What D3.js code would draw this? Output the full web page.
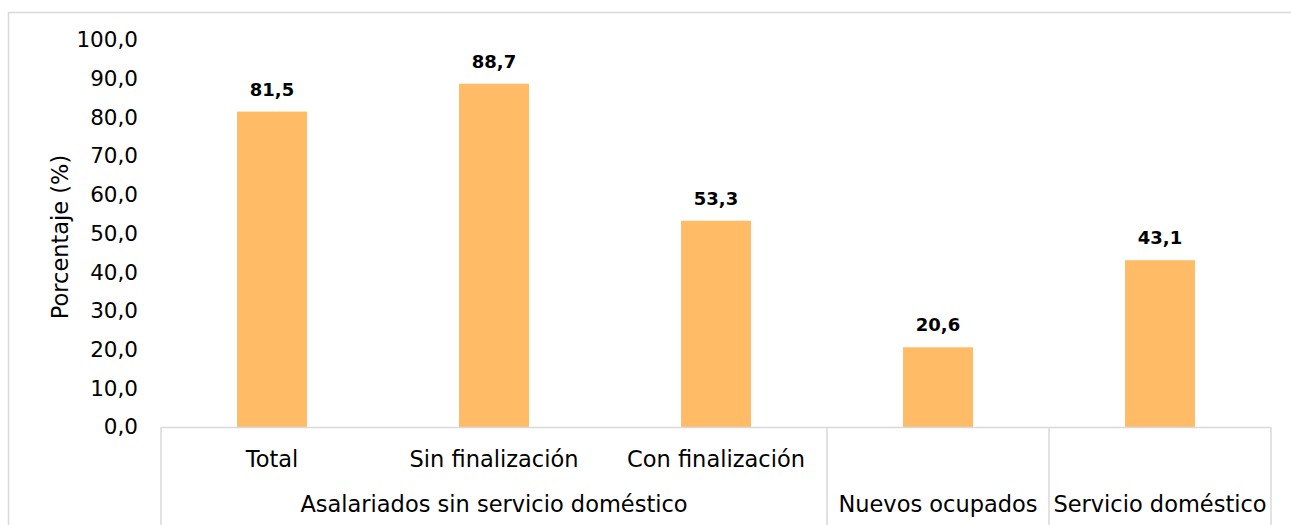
<!DOCTYPE html>
<html><head><meta charset="utf-8">
<script src="https://cdn.jsdelivr.net/npm/d3@7"></script>
<style>body{margin:0;background:#fff;} svg{display:block;}</style>
</head><body>
<svg id="c" width="1291" height="525"></svg>
<script>
const categories = ["Total", "Sin finalización", "Con finalización", "Nuevos ocupados", "Servicio doméstico"];
const groupLabels = [
  {name: "Asalariados sin servicio doméstico", from: 0, to: 2},
  {name: "Nuevos ocupados", from: 3, to: 3},
  {name: "Servicio doméstico", from: 4, to: 4}
];
const values = [81.5, 88.7, 53.3, 20.6, 43.1];
const yTicks = [0, 10, 20, 30, 40, 50, 60, 70, 80, 90, 100];

const font = "'Century Gothic', 'DejaVu Sans', sans-serif";
const svg = d3.select("#c");
const fmt = v => d3.format(".1f")(v).replace(".", ",");

// outer border
svg.append("rect").attr("x", 8.5).attr("y", 12.5).attr("width", 1290).attr("height", 600)
  .attr("fill", "none").attr("stroke", "#d9d9d9").attr("stroke-width", 1.5);

const x0 = 161, x1 = 1271, yBase = 427, yTop = 40;
const x = d3.scaleBand().domain(categories).range([x0, x1]).paddingInner(0.685).paddingOuter(0.3425);
const y = d3.scaleLinear().domain([0, 100]).range([yBase, yTop]);

// y axis tick labels
const yAxis = d3.axisLeft(y).tickValues(yTicks).tickFormat(fmt).tickSize(0).tickPadding(0);
const ya = svg.append("g").attr("transform", "translate(138,0)").call(yAxis);
ya.select(".domain").remove();
ya.selectAll("text").attr("font-family", font).attr("font-size", 21.5).attr("fill", "#000");

// y title
svg.append("text").attr("transform", `translate(68,237) rotate(-90)`).attr("text-anchor", "middle")
  .attr("font-family", font).attr("font-size", 22.5).attr("fill", "#000").text("Porcentaje (%)");

// bars
svg.append("g").selectAll("rect").data(values).join("rect")
  .attr("x", (d, i) => x(categories[i])).attr("width", x.bandwidth())
  .attr("y", d => y(d)).attr("height", d => yBase - y(d)).attr("fill", "#FFBB66");

// value labels
svg.append("g").selectAll("text").data(values).join("text")
  .attr("x", (d, i) => x(categories[i]) + x.bandwidth() / 2).attr("y", d => y(d) - 16)
  .attr("text-anchor", "middle").attr("font-family", font).attr("font-weight", "bold")
  .attr("font-size", 18).attr("fill", "#000").text(d => fmt(d));

// x axis line
const step = (x1 - x0) / categories.length;
svg.append("line").attr("x1", x0).attr("x2", x1).attr("y1", yBase + 0.5).attr("y2", yBase + 0.5)
  .attr("stroke", "#d9d9d9").attr("stroke-width", 1.5);
// group separators
const seps = [0, 3, 4, 5];
svg.append("g").selectAll("line").data(seps).join("line")
  .attr("x1", d => x0 + d * step).attr("x2", d => x0 + d * step)
  .attr("y1", yBase).attr("y2", 525).attr("stroke", "#d9d9d9").attr("stroke-width", 1.5);

// level-1 labels
svg.append("g").selectAll("text").data(categories).join("text")
  .attr("x", d => x(d) + x.bandwidth() / 2).attr("y", 467).attr("text-anchor", "middle")
  .attr("font-family", font).attr("font-size", 22.5).attr("fill", "#000")
  .text((d, i) => groupLabels.some(g => g.from === i && g.to === i) ? "" : d);

// level-2 labels
svg.append("g").selectAll("text").data(groupLabels).join("text")
  .attr("x", d => x0 + (d.from + d.to + 1) / 2 * step).attr("y", 512).attr("text-anchor", "middle")
  .attr("font-family", font).attr("font-size", 22.5).attr("fill", "#000").text(d => d.name);
</script>
</body></html>
